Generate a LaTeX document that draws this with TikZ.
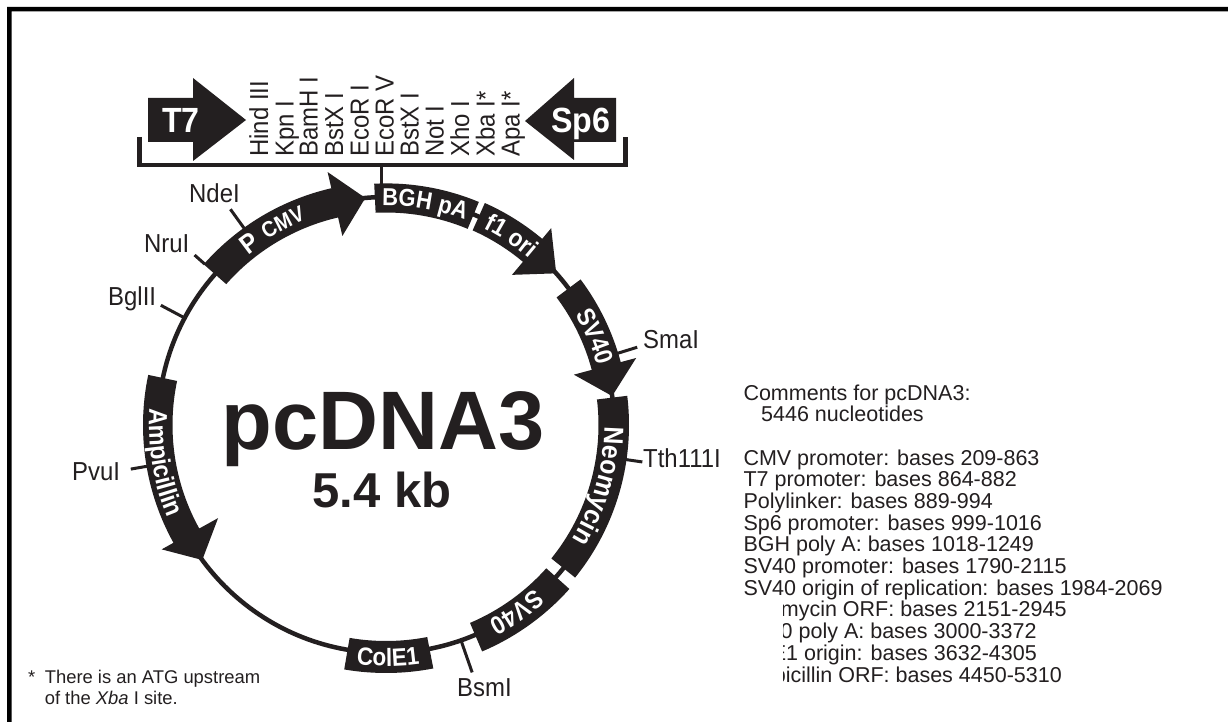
\documentclass[tikz,border=0pt]{standalone}
\usepackage{fontspec}
\setmainfont{Liberation Sans}
\newfontfamily\bandfam[FakeStretch=0.9]{Liberation Sans}
\newfontfamily\mcsfam[FakeStretch=0.92]{Liberation Sans}
\newfontfamily\sitefam[FakeStretch=0.92]{Liberation Sans}
\usetikzlibrary{decorations.text}
\definecolor{ink}{HTML}{231F20}
\newcommand{\fs}[1]{\fontsize{#1}{#1}\selectfont}
\newcommand{\bandf}[1]{\bandfam\bfseries\fs{#1}\color{white}}
% plain band: a1 a2 ri ro
\newcommand{\bandseg}[4]{\fill[ink] (#1:#4 pt) arc[start angle=#1,end angle=#2,radius=#4 pt] -- (#2:#3 pt) arc[start angle=#2,end angle=#1,radius=#3 pt] -- cycle;}
% arrow band: a1 a2(head base) atip ri ro rhi rho
\newcommand{\arrowseg}[7]{\fill[ink] (#1:#5 pt) arc[start angle=#1,end angle=#2,radius=#5 pt] -- (#2:#7 pt) -- (#3:228 pt) -- (#2:#6 pt) -- (#2:#4 pt) arc[start angle=#2,end angle=#1,radius=#4 pt] -- cycle;}
% text on arc: a1 a2 r size text
\newcommand{\arctext}[5]{\path[decorate,decoration={text along path,text align=center,text={|\bandf{#4}|#5}}] (#1:#3 pt) arc[start angle=#1,end angle=#2,radius=#3 pt];}
% tick: name angle r1 r2
\newcommand{\sitetick}[4]{\coordinate (#1a) at (#2:#3 pt); \coordinate (#1b) at (#2:#4 pt); \draw[ticks] (#1a) -- (#1b);}
\tikzset{
  ticks/.style={ink,line width=3pt},
  site/.style={text=ink,font=\sitefam\fs{26},inner sep=0pt,anchor=base west},
  mcs/.style={text=ink,font=\mcsfam\fs{26},inner sep=0pt,anchor=base west,rotate=90},
  note/.style={text=ink,font=\fs{21.5},inner sep=0pt,anchor=base west},
  noter/.style={text=ink,font=\fs{21.5},inner sep=0pt,anchor=base east},
  foot/.style={text=ink,font=\fs{18.4},inner sep=0pt,anchor=base west},
  bigt/.style={text=white,font=\sitefam\bfseries\fs{35},inner sep=0pt,anchor=base},
}
\begin{document}
\begin{tikzpicture}[x=1pt,y=-1pt]
\useasboundingbox (0,0) rectangle (1228,722);
\fill[white] (0,0) rectangle (1228,722);
% frame
\fill[black] (7,722) -- (7,7) -- (1228,7) -- (1228,11.5) -- (11.5,11.5) -- (11.5,722) -- cycle;
% promoter arrows
\fill[ink] (148,98) -- (193,98) -- (193,78) -- (246,120) -- (193,161) -- (193,142) -- (148,142) -- cycle;
\fill[ink] (616,98) -- (574,98) -- (574,78) -- (525,121) -- (574,160) -- (574,142) -- (616,142) -- cycle;
\node[bigt] (t7) at (181,132.5) {T7};
\node[bigt] (sp6) at (581,132.5) {Sp6};
% bracket
\coordinate (brl) at (139.5,137); \coordinate (brr) at (625.5,137);
\coordinate (brm) at (381.5,165);
\draw[ink,line width=4.8pt,miter limit=10] (brl) -- (139.5,165) -- (625.5,165) -- (brr);
\draw[ink,line width=3.6pt] (brm) -- (381.5,184);
% polylinker
\node[mcs] (m1) at (268,157) {Hind III};
\node[mcs] (m2) at (293.5,157) {Kpn I};
\node[mcs] (m3) at (317.5,157) {BamH I};
\node[mcs] (m4) at (343,157) {BstX I};
\node[mcs] (m5) at (368.5,157) {EcoR I};
\node[mcs] (m6) at (393.5,157) {EcoR V};
\node[mcs] (m7) at (418.5,157) {BstX I};
\node[mcs] (m8) at (443.5,157) {Not I};
\node[mcs] (m9) at (469,157) {Xho I};
\node[mcs] (m10) at (494.5,157) {Xba I*};
\node[mcs] (m11) at (519.5,157) {Apa I*};
% plasmid
\begin{scope}[shift={(386,425)},y=1pt]
  \draw[ink,line width=4.5pt] (0,0) circle[radius=228pt];
  \arrowseg{138.6}{103}{95.2}{213}{243}{194}{259.6}
  \bandseg{92.8}{67.4}{212.5}{241.6}
  \arrowseg{66}{50}{41.7}{213}{243}{196}{257}
  \arrowseg{36.8}{15}{7.3}{213}{243}{194.5}{259}
  \bandseg{6.9}{-38.9}{212.5}{243}
  \bandseg{-41.8}{-67}{215}{246}
  \bandseg{-79}{-99.7}{216}{248}
  \arrowseg{168.1}{209}{216.3}{213.5}{243}{192}{256.5}
  % ticks
  \sitetick{nde}{125.8}{242}{266}
  \sitetick{nru}{138.4}{242}{256}
  \sitetick{bgl}{152}{228}{255}
  \sitetick{pvu}{189.8}{240}{259}
  \sitetick{bsm}{-70.8}{229}{262}
  \sitetick{tth}{-8.2}{240}{259}
  \sitetick{sma}{17.2}{242}{263}
  % band texts: clockwise (tops outward)
  \arctext{136}{118}{218.5}{27}{P}
  \arctext{130}{104}{220.5}{22}{CMV}
  \arctext{98}{62}{219.5}{24.5}{BGH pA}
  \arctext{72}{41}{219.5}{25}{f1 ori}
  \arctext{42}{4}{219.5}{25.5}{SV40}
  \arctext{14}{-46}{218.5}{27.5}{Neomycin}
  \arctext{-35}{-75}{220.5}{25.5}{SV40}
  % counter-clockwise (tops inward)
  \arctext{-110}{-69}{241}{25}{ColE1}
  \arctext{165}{214}{237}{26}{Ampicillin}
\end{scope}
% site labels
\node[site] (ndel) at (189,202) {NdeI};
\node[site] (nrul) at (144,252) {NruI};
\node[site] (bgl2) at (108,305) {BglII};
\node[site] (pvul) at (72,480) {PvuI};
\node[site] (smal) at (643,348) {SmaI};
\node[site] (tthl) at (643,467) {Tth111I};
\node[site] (bsml) at (457,696) {BsmI};
% centre title
\node[text=ink,font=\bfseries\fs{83},inner sep=0pt,anchor=base] (title) at (383,449) {pcDNA3};
\node[text=ink,font=\bfseries\fs{49},inner sep=0pt,anchor=base] (size) at (382,507) {5.4 kb};
% comments
\node[note] (c1) at (743.3,400.7) {Comments for pcDNA3:};
\node[note] (c2) at (761,421.7) {5446 nucleotides};
\node[note] (l1) at (743.3,465) {CMV promoter: bases 209-863};
\node[note] (l2) at (743.3,486.7) {T7 promoter: bases 864-882};
\node[note] (l3) at (743.3,508.4) {Polylinker: bases 889-994};
\node[note] (l4) at (743.3,530.1) {Sp6 promoter: bases 999-1016};
\node[note] (l5) at (743.3,551.8) {BGH poly A: bases 1018-1249};
\node[note] (l6) at (743.3,573.5) {SV40 promoter: bases 1790-2115};
\node[note] (l7) at (743.3,595.2) {SV40 origin of replication: bases 1984-2069};
\begin{scope}
  \clip (783,600) rectangle (1228,700);
  \node[noter] (l8) at (1066.7,616.9) {mycin ORF: bases 2151-2945};
  \node[noter] (l9) at (1036.7,638.6) {0 poly A: bases 3000-3372};
  \node[noter] (l10) at (1037,660.3) {E1 origin: bases 3632-4305};
  \node[noter] (l11) at (1062,682) {picillin ORF: bases 4450-5310};
\end{scope}
% footnote
\node[foot] (fa) at (28,683) {*};
\node[foot] (fb) at (44.6,683) {There is an ATG upstream};
\node[foot] (fc) at (44.6,704.6) {of the \textit{Xba} I site.};
\end{tikzpicture}
\end{document}
